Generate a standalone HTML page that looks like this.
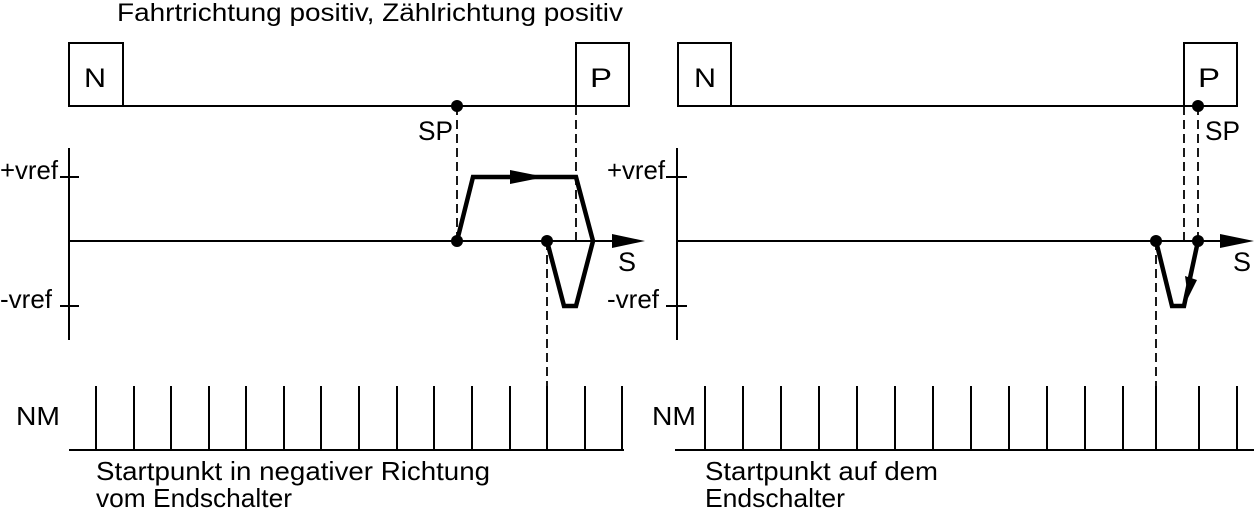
<!DOCTYPE html>
<html><head><meta charset="utf-8"><style>
html,body{margin:0;padding:0;background:#fff;width:1254px;height:510px;overflow:hidden}
text{font-family:"Liberation Sans",sans-serif;fill:#000}
</style></head><body>
<svg width="1254" height="510" viewBox="0 0 1254 510" xmlns="http://www.w3.org/2000/svg">
<g stroke="#000" fill="none" stroke-width="2">
<rect x="69" y="43" width="54" height="63"/>
<rect x="576" y="43" width="53" height="63"/>
<line x1="123" y1="106" x2="576" y2="106"/>
<line x1="69" y1="148" x2="69" y2="340"/>
<line x1="60" y1="177" x2="79" y2="177"/>
<line x1="60" y1="306" x2="79" y2="306"/>
<line x1="69" y1="241" x2="615" y2="241"/>
<g stroke-dasharray="9,5" stroke-width="1.8">
<line x1="457" y1="106" x2="457" y2="241"/>
<line x1="576" y1="106" x2="576" y2="241"/>
<line x1="547" y1="241" x2="547" y2="387"/>
</g>
<polyline points="457,241 473,177 576,177 593,241 576,306 564,306 547,241" stroke-width="4.5" stroke-linejoin="miter"/>
<line x1="69" y1="450" x2="624" y2="450"/>
<rect x="678" y="43" width="53" height="63"/>
<rect x="1184" y="43" width="53" height="63"/>
<line x1="731" y1="106" x2="1184" y2="106"/>
<line x1="677" y1="148" x2="677" y2="340"/>
<line x1="666" y1="177" x2="687" y2="177"/>
<line x1="666" y1="306" x2="687" y2="306"/>
<line x1="677" y1="241" x2="1225" y2="241"/>
<g stroke-dasharray="9,5" stroke-width="1.8">
<line x1="1184" y1="106" x2="1184" y2="241"/>
<line x1="1198" y1="106" x2="1198" y2="241"/>
<line x1="1156" y1="241" x2="1156" y2="387"/>
</g>
<polyline points="1156,241 1172,306 1184,306 1198,241" stroke-width="4.5"/>
<line x1="675" y1="450" x2="1254" y2="450"/>
</g>
<g fill="#000">
<polygon points="510,170 545,177 510,184"/>
<polygon points="612,234 645,241 612,248"/>
<polygon points="1220,234 1254,241 1220,248"/>
<polygon points="1185,276 1197,280 1188,298"/>
<circle cx="457" cy="106" r="6"/><circle cx="457" cy="241" r="6"/><circle cx="547" cy="241" r="6"/>
<circle cx="1198" cy="106" r="6"/><circle cx="1156" cy="241" r="6"/><circle cx="1198" cy="241" r="6"/>
</g>
<g stroke="#000" stroke-width="2">
<line x1="96" y1="386" x2="96" y2="450"/><line x1="134" y1="386" x2="134" y2="450"/><line x1="171" y1="386" x2="171" y2="450"/><line x1="209" y1="386" x2="209" y2="450"/><line x1="246" y1="386" x2="246" y2="450"/><line x1="284" y1="386" x2="284" y2="450"/><line x1="321" y1="386" x2="321" y2="450"/><line x1="359" y1="386" x2="359" y2="450"/><line x1="397" y1="386" x2="397" y2="450"/><line x1="434" y1="386" x2="434" y2="450"/><line x1="472" y1="386" x2="472" y2="450"/><line x1="510" y1="386" x2="510" y2="450"/><line x1="547" y1="386" x2="547" y2="450"/><line x1="585" y1="386" x2="585" y2="450"/><line x1="622" y1="386" x2="622" y2="450"/>
<line x1="705" y1="386" x2="705" y2="450"/><line x1="743" y1="386" x2="743" y2="450"/><line x1="781" y1="386" x2="781" y2="450"/><line x1="819" y1="386" x2="819" y2="450"/><line x1="857" y1="386" x2="857" y2="450"/><line x1="895" y1="386" x2="895" y2="450"/><line x1="933" y1="386" x2="933" y2="450"/><line x1="971" y1="386" x2="971" y2="450"/><line x1="1009" y1="386" x2="1009" y2="450"/><line x1="1047" y1="386" x2="1047" y2="450"/><line x1="1085" y1="386" x2="1085" y2="450"/><line x1="1123" y1="386" x2="1123" y2="450"/><line x1="1156" y1="386" x2="1156" y2="450"/><line x1="1199" y1="386" x2="1199" y2="450"/><line x1="1237" y1="386" x2="1237" y2="450"/>
</g>
<g font-size="26">
<text x="117" y="21" font-size="25" textLength="506" lengthAdjust="spacingAndGlyphs">Fahrtrichtung positiv, Zählrichtung  positiv</text>
<text x="84" y="87" font-size="27" textLength="22" lengthAdjust="spacingAndGlyphs">N</text><text x="590" y="87" font-size="27" textLength="22" lengthAdjust="spacingAndGlyphs">P</text>
<text x="694" y="87" font-size="27" textLength="22" lengthAdjust="spacingAndGlyphs">N</text><text x="1198" y="87" font-size="27" textLength="22" lengthAdjust="spacingAndGlyphs">P</text>
<text x="418" y="140" font-size="27" textLength="35" lengthAdjust="spacingAndGlyphs">SP</text><text x="1205" y="140" font-size="27" textLength="35" lengthAdjust="spacingAndGlyphs">SP</text>
<text x="0" y="179" textLength="58" lengthAdjust="spacingAndGlyphs">+vref</text>
<text x="0" y="308" textLength="52" lengthAdjust="spacingAndGlyphs">-vref</text>
<text x="607" y="179" textLength="58" lengthAdjust="spacingAndGlyphs">+vref</text>
<text x="607" y="308" textLength="52" lengthAdjust="spacingAndGlyphs">-vref</text>
<text x="618" y="271" font-size="27">S</text><text x="1233" y="271" font-size="27">S</text>
<text x="16" y="425" textLength="44" lengthAdjust="spacingAndGlyphs">NM</text>
<text x="652" y="425" textLength="44" lengthAdjust="spacingAndGlyphs">NM</text>
<text x="96" y="480" textLength="394" lengthAdjust="spacingAndGlyphs">Startpunkt in negativer Richtung</text>
<text x="96" y="507" textLength="196" lengthAdjust="spacingAndGlyphs">vom Endschalter</text>
<text x="705" y="480" textLength="233" lengthAdjust="spacingAndGlyphs">Startpunkt auf dem</text>
<text x="705" y="507" textLength="140" lengthAdjust="spacingAndGlyphs">Endschalter</text>
</g>
</svg>
</body></html>
